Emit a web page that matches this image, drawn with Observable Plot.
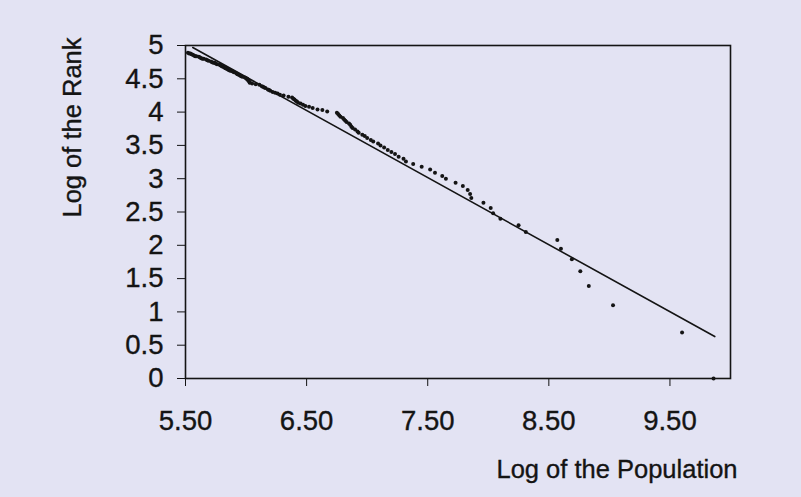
<!DOCTYPE html>
<html>
<head>
<meta charset="utf-8">
<script src="https://cdn.jsdelivr.net/npm/d3@7"></script>
<script src="https://cdn.jsdelivr.net/npm/@observablehq/plot@0.6"></script>
<style>
  html, body { margin: 0; padding: 0; background: #e3e3f3; }
  #chart svg text { stroke: #141414; stroke-width: 0.35px; }
</style>
</head>
<body>
<div id="chart"></div>
<script>
// Data (rank order 1..133)
const logPopulation = [
  9.86, 9.60, 9.03, 8.83, 8.76, 8.69, 8.60, 8.57, 8.31, 8.25,
  8.10, 8.04, 8.02, 7.96, 7.86, 7.85, 7.83, 7.79, 7.73, 7.65,
  7.62, 7.56, 7.52, 7.45, 7.38, 7.32, 7.30, 7.26, 7.23, 7.20,
  7.17, 7.14, 7.11, 7.09, 7.05, 7.03, 7.00, 6.98, 6.96, 6.93,
  6.92, 6.90, 6.88, 6.87, 6.86, 6.85, 6.83, 6.82, 6.81, 6.80,
  6.78, 6.77, 6.76, 6.75, 6.67, 6.63, 6.59, 6.55, 6.52, 6.49,
  6.47, 6.45, 6.43, 6.42, 6.41, 6.40, 6.39, 6.38, 6.35, 6.31,
  6.28, 6.26, 6.24, 6.22, 6.20, 6.19, 6.18, 6.16, 6.15, 6.14,
  6.13, 6.11, 6.08, 6.05, 6.03, 6.03, 6.02, 6.02, 6.01, 6.01,
  6.00, 5.99, 5.97, 5.96, 5.95, 5.94, 5.93, 5.92, 5.90, 5.89,
  5.88, 5.87, 5.86, 5.85, 5.84, 5.83, 5.82, 5.81, 5.80, 5.79,
  5.78, 5.76, 5.75, 5.74, 5.73, 5.72, 5.71, 5.69, 5.68, 5.67,
  5.65, 5.64, 5.63, 5.62, 5.61, 5.59, 5.58, 5.57, 5.56, 5.55,
  5.54, 5.53, 5.52
];
const logRank = [
  0.00, 0.69, 1.10, 1.39, 1.61, 1.79, 1.95, 2.08, 2.20, 2.30,
  2.40, 2.48, 2.56, 2.64, 2.71, 2.77, 2.83, 2.89, 2.94, 3.00,
  3.04, 3.09, 3.14, 3.18, 3.22, 3.26, 3.30, 3.33, 3.37, 3.40,
  3.43, 3.47, 3.50, 3.53, 3.56, 3.58, 3.61, 3.64, 3.66, 3.69,
  3.71, 3.74, 3.76, 3.78, 3.81, 3.83, 3.85, 3.87, 3.89, 3.91,
  3.93, 3.95, 3.97, 3.99, 4.01, 4.03, 4.04, 4.06, 4.08, 4.09,
  4.11, 4.13, 4.14, 4.16, 4.17, 4.19, 4.20, 4.22, 4.23, 4.25,
  4.26, 4.28, 4.29, 4.30, 4.32, 4.33, 4.34, 4.36, 4.37, 4.38,
  4.39, 4.41, 4.42, 4.43, 4.44, 4.45, 4.47, 4.48, 4.49, 4.50,
  4.51, 4.52, 4.53, 4.54, 4.55, 4.56, 4.57, 4.58, 4.60, 4.61,
  4.62, 4.62, 4.63, 4.64, 4.65, 4.66, 4.67, 4.68, 4.69, 4.70,
  4.71, 4.72, 4.73, 4.74, 4.74, 4.75, 4.76, 4.77, 4.78, 4.79,
  4.80, 4.80, 4.81, 4.82, 4.83, 4.84, 4.84, 4.85, 4.86, 4.87,
  4.88, 4.88, 4.89
];
// Fitted line end points
const fitPopulation = [5.56, 9.87];
const fitRank = [4.97, 0.63];
// Ticks and labels
const xTicks = [5.5, 6.5, 7.5, 8.5, 9.5];
const yTicks = [0, 0.5, 1, 1.5, 2, 2.5, 3, 3.5, 4, 4.5, 5];
const xLabel = "Log of the Population";
const yLabel = "Log of the Rank";

const points = logPopulation.map((x, i) => ({x, y: logRank[i]}));
const fit = fitPopulation.map((x, i) => ({x, y: fitRank[i]}));

const ink = "#141414";
const chart = Plot.plot({
  width: 801,
  height: 497,
  marginLeft: 185,
  marginRight: 71,
  marginTop: 45,
  marginBottom: 119,
  style: {
    background: "#e3e3f3",
    fontFamily: "'Liberation Sans', Arial, Helvetica, sans-serif",
    fontSize: "27px",
    color: ink
  },
  x: {domain: [5.5, 10]},
  y: {domain: [0, 5]},
  marks: [
    Plot.axisX(xTicks, {tickFormat: d3.format(".2f"), tickSize: 8, tickPadding: 24, label: null, stroke: ink, fontSize: 27.5}),
    Plot.axisY(yTicks, {tickFormat: d => String(d), tickSize: 8, tickPadding: 14, label: null, stroke: ink, fontSize: 27.5}),
    Plot.frame({stroke: ink, strokeWidth: 1.6}),
    Plot.line(fit, {x: "x", y: "y", stroke: ink, strokeWidth: 1.6}),
    Plot.dot(points, {x: "x", y: "y", r: 2, fill: ink, stroke: null}),
    Plot.text([yLabel], {text: d => d, frameAnchor: "top-left", rotate: -90, dx: -113, dy: 82, textAnchor: "middle", lineAnchor: "middle", fontSize: 25.5, fill: ink}),
    Plot.text([xLabel], {text: d => d, frameAnchor: "bottom-right", dx: 7, dy: 91, textAnchor: "end", lineAnchor: "middle", fontSize: 25.5, fill: ink})
  ]
});
document.getElementById("chart").appendChild(chart);
</script>
</body>
</html>
